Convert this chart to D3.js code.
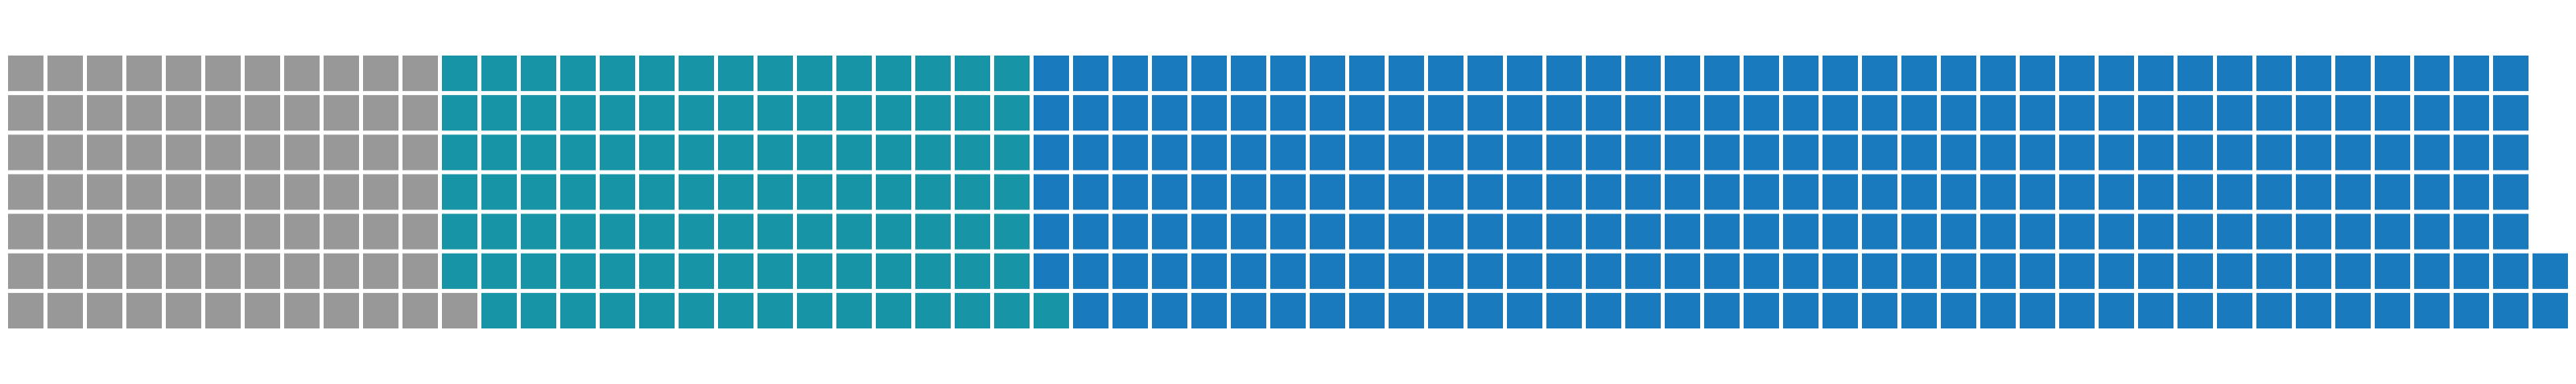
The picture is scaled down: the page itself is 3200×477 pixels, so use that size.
<!DOCTYPE html>
<html>
<head>
<meta charset="utf-8">
<script src="https://cdn.jsdelivr.net/npm/d3@7"></script>
<style>
  html, body { margin: 0; padding: 0; background: #ffffff; }
  svg { display: block; }
</style>
</head>
<body>
<div id="chart"></div>
<script>
// Data: waffle categories and number of cells for each
const categories = ["A", "B", "C"];
const values = [78, 105, 267];
const colors = ["#989898", "#1794a5", "#1a7abe"];
const nRows = 7;

const width = 3200, height = 477;

// Build cells: filled column by column, bottom to top
const cells = [];
let idx = 0;
categories.forEach((c, ci) => {
  for (let k = 0; k < values[ci]; k++) {
    const col = Math.floor(idx / nRows);
    const row = nRows - 1 - (idx % nRows);
    cells.push({ cat: c, col, row });
    idx++;
  }
});
const nCols = Math.ceil(idx / nRows);

const x = d3.scaleBand()
  .domain(d3.range(nCols))
  .range([10, 3190])
  .paddingInner(5 / 49)
  .paddingOuter(0);

const y = d3.scaleBand()
  .domain(d3.range(nRows))
  .range([69, 408])
  .paddingInner(5 / 49.17)
  .paddingOuter(0);

const color = d3.scaleOrdinal().domain(categories).range(colors);

const svg = d3.select("#chart").append("svg")
  .attr("width", width)
  .attr("height", height);

svg.append("g")
  .selectAll("rect")
  .data(cells)
  .join("rect")
  .attr("x", d => x(d.col))
  .attr("y", d => y(d.row))
  .attr("width", x.bandwidth())
  .attr("height", y.bandwidth())
  .attr("fill", d => color(d.cat));
</script>
</body>
</html>
